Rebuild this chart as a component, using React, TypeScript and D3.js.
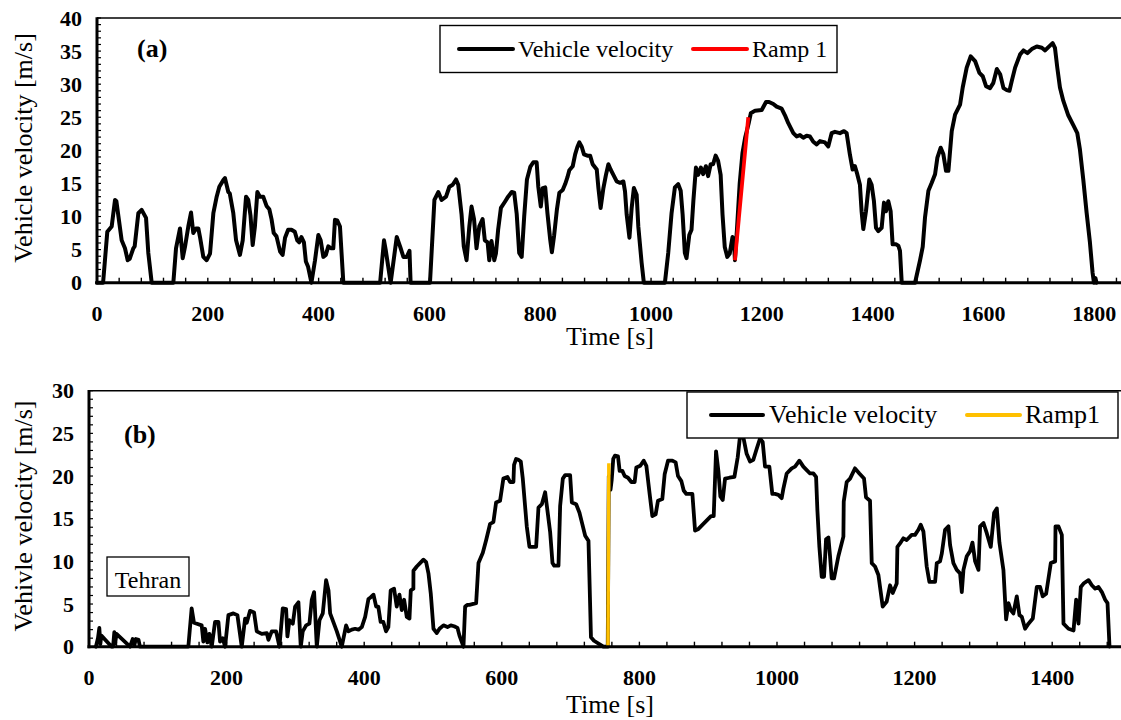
import React from "react";
import * as d3 from "d3";

// ---------- Data: panel (a) ----------
const timeA = [0,11,18.6,26.5,32.5,35,44.5,50.5,55.4,59,65.5,68,74.6,80.6,88.5,92.6,98.7,137.8,142.6,149.8,154.7,158.8,164.8,169.7,173.8,178.7,182.9,185.9,191.9,198,204,210,216,220.8,228,231,237,239.6,246,251,258,263,269,273,277,281,285,289.4,294,300,306,311,315,319,324,330.5,335,339.4,345,351,357,361.5,365,369,373.5,377,381,387,393.5,399.5,403.7,408.5,413,417.5,422,426.5,429.5,433.7,438.5,444.6,511,518,521,530,541,547,553,559,564,566,601,609,616,622,630,636,642,648,652,658,662,667,672,676,680.5,685,690,696,700,705,708,712,717,720,724,729,736,742,748.5,753,757.5,762,766.5,771,776,782,787.5,793.5,796.5,801,804.5,809,813,818,821,825,830,834.5,840.5,845,849,852.5,858.6,863,867,870.6,875,879,885,890,894.6,902,905,909,914,918.6,923,927,932,938,944,950,953,956,961,965,969,974,977,983,987,1025,1031,1037,1043,1049,1053.5,1057,1061,1064,1069,1073,1076.4,1081,1085,1090,1094,1099,1103,1107.6,1112,1116.6,1121,1125.6,1129,1133,1137.6,1142,1147,1149.6,1151.4,1155,1160,1165,1170,1176,1180,1187.8,1199.7,1207.5,1213,1220.7,1226.7,1235.7,1241.7,1247.7,1256.8,1262.8,1268.8,1274.8,1280.8,1286.8,1292.8,1298.9,1304.9,1313.9,1319.9,1325.9,1331.9,1340.9,1348.2,1353,1359,1363.8,1368,1372.2,1377,1380,1383.1,1387.9,1393.9,1398.1,1402.3,1406,1410.2,1416.2,1420.4,1424,1428.2,1432.4,1436,1442,1446.3,1449.3,1452.4,1476.5,1485.5,1490.3,1494.5,1500.6,1506.6,1512.6,1516.8,1522.8,1527.6,1532.4,1536.7,1542.7,1548.7,1557.7,1562.5,1569.7,1576.9,1584.8,1592.6,1598.6,1604.6,1611.8,1617.8,1624.1,1630.1,1636.1,1642.1,1646.9,1651.1,1657.1,1666.1,1672.1,1679.4,1687.2,1696.2,1705.2,1711.2,1717.2,1724.8,1729,1733.2,1738,1744,1753,1762.1,1769.3,1774.1,1780.1,1786.1,1792.1,1796.9,1799.4,1802,1804];
const speedA = [0,0,7.7,8.5,12.5,12.3,6.4,5.2,3.4,3.6,5.2,5.5,10.5,11,9.8,4.5,0,0,5.2,8.2,3.7,5.4,8.5,10.6,7.5,8.2,8.2,6.9,3.9,3.4,4.4,10.5,13,14.5,15.5,15.8,13.7,13.5,10.5,6.4,4.2,6.4,13,12.5,10.2,5.7,8.5,13.7,13,13,11.6,11.1,9.6,7.5,7,4.7,4.2,6.8,8,8,7.7,6.4,6.1,6.9,6.1,3.2,2.4,0,3.4,7.2,6.4,3.9,4.2,5.5,5.2,5.2,9.5,9.4,8.5,0,0,6.4,5,0,6.9,5.5,3.9,3.9,4.8,0,0,12.5,13.7,12.5,13,14.5,14.8,15.6,14.8,10.3,5.5,3.4,8.5,11.5,9.6,5.2,8.5,9.6,6.4,6.1,3.4,6.3,3.4,4.4,8,11.3,12.2,13,13.7,13.6,10.4,4.5,3.9,10,15.6,17.5,18.2,18.2,14.5,11.5,14.3,14.4,10.5,6.5,4.6,7.1,11,13.6,14,14.9,15.9,17,17.6,19.4,20.5,21.2,20.5,19.4,19.2,19.2,17.9,17.1,14.3,11.3,14.3,16.3,17.9,17.1,16.3,15.3,15.1,15.3,13.8,10.3,6.8,11.3,14.3,13.3,8.5,3,0,0,4.5,10.5,14.4,14.9,13.9,10.3,4.5,3.7,7.2,8,12.4,17.4,16.3,17.4,16.4,17.6,16.1,17.9,17.9,19.2,18.4,16.3,10.3,5.4,3.9,4.4,6.9,6.4,3.4,8,15,19.6,22,24,25.6,26,26.1,27.3,27.3,27,26.6,26.3,25.3,24.1,22.6,22.1,22.3,21.9,22.2,22.1,21.3,20.9,21.4,21.2,20.6,22.6,22.8,22.6,22.9,22.6,19.3,17.1,17.6,16.4,14.8,10.8,8.1,10.8,15.6,14.8,12.3,8.3,7.8,8.3,12.1,10.8,12.3,10.8,5.8,5.8,5.6,4.8,0,0,3.4,5.4,9.9,13.9,15.1,16.4,18.9,20.4,19.4,16.9,16.9,22.9,25.4,26.9,29.5,32.5,34.2,33.5,31.7,31.2,29.7,29.4,30.2,32.3,31.5,29.4,29.1,29,30.5,32.5,34.5,35.1,34.7,35.3,35.7,35.5,35.1,35.6,36.2,35.5,32.5,29.5,27.5,25.3,23.8,22.6,20.1,15.6,10.6,6.1,1.5,0,0.7,0];
const rampATime = [1151.4, 1175.5];
const rampASpeed = [3.4, 25];

// ---------- Data: panel (b) ----------
const timeB = [10,13,15,16.5,18,33,35,36.8,38,40,59.6,63.5,66,68,72,74,144.4,149.2,152.6,163.8,166.2,168.7,172,175,178.4,183.2,188.1,190.5,194.4,197.8,202.6,209.9,215.7,222,226.9,229.3,234.1,239.9,243.8,251.1,258.4,260.8,265.6,271.9,276.8,281.6,286.5,288.4,291.3,296.2,299.6,304.4,307.8,310.7,315.6,320.4,323.8,327.2,331.1,335,339.8,344.6,348.1,350.5,360.2,367.4,373.7,377.1,382,386.8,391.7,396.5,401.4,406.2,409.6,413.5,417.4,420.5,423.9,427.8,431.7,435.1,438.5,443.4,447.3,451.2,454.6,458,461.9,465.8,467.7,471.5,471.6,476.4,481.2,486.1,490,493.4,496.8,500.7,505.5,509.4,515.2,521,525.9,530.7,535.6,538.5,544.3,546.7,550.1,553,562.7,566.1,572.4,577.3,583,587.8,591.7,597.5,602.3,608.2,612,616.9,617.8,620.8,624.1,627.6,630.5,636.3,640.2,649.9,653.3,658.2,663,670.3,673.7,676.1,682.4,684.8,688.7,692.1,699.3,701.8,708.1,712.9,716.3,721.2,726,729.6,734,747.6,754,755.5,758,759.7,762,764.5,768.9,771.3,775.2,778.6,783.4,788.3,793.1,795.5,801.3,806.2,810.1,814.9,818.8,823.6,827,833.3,836.7,841.6,847.9,852.7,856.1,861,864.4,868.3,877,880.9,885.8,904.1,908,911.4,914.8,917.7,921.1,924.5,930.8,938.1,942.9,946.8,951.7,955.9,960.8,965.6,970.5,975.3,979.2,982.6,988.9,993.2,997.1,1002,1006.8,1009.2,1014.1,1021.4,1026.2,1032.5,1038.3,1043.2,1048,1052.9,1056.8,1058.7,1061.6,1065,1068.4,1071.3,1074.7,1077.1,1079.5,1082.9,1089.2,1096.5,1097,1101.3,1106.2,1113.4,1119.7,1126.5,1129.4,1135.2,1137.7,1142.5,1147.4,1153.6,1159.5,1164.3,1168.2,1174,1175,1178.8,1183.7,1188.5,1195.8,1200.6,1205.5,1208.9,1212.8,1217.6,1221.5,1229.8,1232.2,1237,1239.5,1244.3,1249.2,1251.6,1256.4,1261.3,1266.1,1268.6,1271,1275.8,1280.7,1284.1,1288,1292.8,1295.2,1300.1,1304.9,1310.7,1315.6,1319.5,1323.3,1329.1,1333,1336.4,1339.8,1343.6,1348.5,1352.4,1355.8,1360.6,1365.5,1371.8,1377.6,1382.4,1386.3,1391.2,1398,1404.3,1404.8,1409.1,1414,1416.4,1423.7,1431,1434.8,1438.2,1441.6,1445.5,1452.8,1457.6,1462.5,1467.3,1472.2,1477,1480.4,1483.3];
const speedB = [0,1.0,2.2,0.3,1.3,0,0,1.7,0.4,1.5,0,0.9,0.2,0.9,0.8,0,0,4.5,2.8,2.5,0.6,2.1,0.5,1.5,0,2.9,2.9,0.6,1,0,3.7,3.9,3.7,0,3.3,2.8,4.2,4,1.8,1.5,1.6,0.8,1.8,1.8,0,4.5,4.4,1.2,3.1,2.7,4.7,5.2,0,1.8,2.5,2.7,5.5,6.4,0,3.1,3.9,7.8,6.6,3.9,1.8,0,2.5,1.8,2,2.1,2,2.3,3.5,5.6,5.8,6.1,4.7,4.7,2.9,2.9,1.8,2.3,6.6,6.8,4.7,6.1,4.3,5.5,3.5,3.3,6.6,6.8,8.9,9.4,9.8,10.2,9.9,8.6,6.2,2.1,1.6,2.1,2.5,2.3,2.5,2.4,2.2,1.3,0,4.7,4.9,4.9,5.1,9.8,11,12.5,14.4,14.6,16.9,17.1,19.7,19.9,19.3,19.3,21.3,22,21.9,21.7,19.7,14.1,11.7,11.7,16.3,16.7,18.1,13.4,9.8,9.5,9.5,16.5,19.7,20.1,20.1,16.9,16.7,15.7,14.6,13,12.4,1.1,0.7,0,0,20,18.4,19.5,22,22.4,22.3,20.6,20.6,20,19.8,19.3,19.3,21,21.2,21.8,21.2,17.9,15.3,15.5,17.1,17.3,20.2,21.8,21.8,21.6,20,19.4,18.3,17.9,17.9,13.6,13.8,15.3,15.3,22.9,20.6,17.6,17.2,19.7,19.8,19.9,22.2,25.1,24.3,22.6,21.7,21.9,23.2,24.4,24,21.1,21.1,17.9,17.9,17.8,17.4,18.5,20.3,20.9,21.1,21.8,21.1,20.7,20.3,20.3,19.9,16,11.7,8.2,8.2,12.6,12.8,10.6,8,8,10.6,12.9,17,19.3,19.7,20.9,20.3,19.7,17.5,17.1,9.8,9.4,8.4,4.7,5.3,7.2,6.3,7.4,11.7,12.1,12.7,12.5,13.1,13.1,13.7,14.3,13.5,9.4,7.6,7.6,9.8,10,10.9,13.7,14.1,11.9,9.8,9,8.6,6.4,9,10.6,11.2,12.2,10,9,14.1,14.5,13.3,11.7,15.7,16.2,12.2,9,3.2,5.1,4.3,3.9,5.9,3.7,3.5,2.1,2.7,3.3,7,7,5.9,6.2,9.8,10,14.1,14.1,13.1,2.7,2.1,1.9,5.5,2.7,7,7.4,7.8,7.2,6.8,7,6.4,5.5,5.1,0];
const rampBTime = [754.3, 755.6];
const rampBSpeed = [0, 21.5];

// ---------- Tick values ----------
const xTicksA = [0, 200, 400, 600, 800, 1000, 1200, 1400, 1600, 1800];
const yTicksA = [0, 5, 10, 15, 20, 25, 30, 35, 40];
const xTicksB = [0, 200, 400, 600, 800, 1000, 1200, 1400];
const yTicksB = [0, 5, 10, 15, 20, 25, 30];

const SERIF = "'Liberation Serif', 'Times New Roman', serif";

type PanelProps = {
  times: number[];
  speeds: number[];
  rampT: number[];
  rampV: number[];
  rampColor: string;
  rampW: number;
  xDomain: [number, number];
  xRange: [number, number];
  yMax: number;
  yRange: [number, number];
  xTicks: number[];
  yTicks: number[];
  lineW: number;
};

function Panel(p: PanelProps) {
  const x = d3.scaleLinear().domain(p.xDomain).range(p.xRange);
  const y = d3.scaleLinear().domain([0, p.yMax]).range(p.yRange);
  const pts = p.times.map((t, i) => [t, p.speeds[i]] as [number, number]);
  const rampPts = p.rampT.map((t, i) => [t, p.rampV[i]] as [number, number]);
  const line = d3
    .line<[number, number]>()
    .x((d) => x(d[0]))
    .y((d) => y(d[1]));
  const x0 = p.xRange[0];
  const y0 = p.yRange[0];
  const yTop = p.yRange[1];
  const minorY = d3.range(0, p.yMax + 0.001, 1);
  const minorX = d3.range(0, p.xDomain[1], 40);
  return (
    <g>
      <line x1={x0} x2={1121} y1={yTop} y2={yTop} stroke="#000" strokeWidth={1.4} />
      <path d={line(pts) || ""} fill="none" stroke="#000" strokeWidth={p.lineW} strokeLinejoin="round" strokeLinecap="round" />
      <path d={line(rampPts) || ""} fill="none" stroke={p.rampColor} strokeWidth={p.rampW} strokeLinecap="butt" />
      {minorY.map((v) => (
        <line key={"my" + v} x1={x0} x2={x0 + 4} y1={y(v)} y2={y(v)} stroke="#000" strokeWidth={1.2} />
      ))}
      {minorX.map((v) => (
        <line key={"mx" + v} x1={x(v)} x2={x(v)} y1={y0} y2={y0 - 5} stroke="#000" strokeWidth={1.4} />
      ))}
      <line x1={x0} x2={x0} y1={yTop - 0.7} y2={y0 + 1.5} stroke="#000" strokeWidth={3} />
      <line x1={x0 - 1.5} x2={1121} y1={y0} y2={y0} stroke="#000" strokeWidth={3} />
      {p.xTicks.map((v) => (
        <text key={"xt" + v} x={x(v)} y={y0 + 38} textAnchor="middle" fontFamily={SERIF} fontWeight="bold" fontSize={22}>
          {v}
        </text>
      ))}
      {p.yTicks.map((v) => (
        <text key={"yt" + v} x={x0 - 15} y={y(v) + 7.5} textAnchor="end" fontFamily={SERIF} fontWeight="bold" fontSize={22}>
          {v}
        </text>
      ))}
    </g>
  );
}

export default function App() {
  return (
    <svg
      width={1121}
      height={720}
      style={{ position: "absolute", left: 0, top: 0, background: "#fff" }}
    >
      <rect x={0} y={0} width={1121} height={720} fill="#fff" />
      <Panel
        times={timeA}
        speeds={speedA}
        rampT={rampATime}
        rampV={rampASpeed}
        rampColor="#ff0000"
        rampW={3.8}
        xDomain={[0, 1850]}
        xRange={[97, 1122]}
        yMax={40}
        yRange={[282.7, 18]}
        xTicks={xTicksA}
        yTicks={yTicksA}
        lineW={4}
      />
      <Panel
        times={timeB}
        speeds={speedB}
        rampT={rampBTime}
        rampV={rampBSpeed}
        rampColor="#ffc000"
        rampW={3.5}
        xDomain={[0, 1500]}
        xRange={[89, 1121]}
        yMax={30}
        yRange={[646.7, 390.7]}
        xTicks={xTicksB}
        yTicks={yTicksB}
        lineW={3.8}
      />

      <text x={610} y={345} textAnchor="middle" fontFamily={SERIF} fontSize={26}>Time [s]</text>
      <text x={610} y={713} textAnchor="middle" fontFamily={SERIF} fontSize={26}>Time [s]</text>
      <text transform="translate(32,148) rotate(-90)" textAnchor="middle" fontFamily={SERIF} fontSize={26}>
        Vehicle velocity [m/s]
      </text>
      <text transform="translate(32,516) rotate(-90)" textAnchor="middle" fontFamily={SERIF} fontSize={26}>
        Vehivle velocity [m/s]
      </text>

      <text x={137} y={57} fontFamily={SERIF} fontWeight="bold" fontSize={26}>(a)</text>
      <text x={124} y={443} fontFamily={SERIF} fontWeight="bold" fontSize={26}>(b)</text>

      <rect x={107} y={557} width={82} height={39} fill="#fff" stroke="#000" strokeWidth={1.3} />
      <text x={148} y={588} textAnchor="middle" fontFamily={SERIF} fontSize={24}>Tehran</text>

      <rect x={440} y={25.5} width={397} height={47} fill="#fff" stroke="#000" strokeWidth={1.4} />
      <line x1={459} x2={513} y1={49} y2={49} stroke="#000" strokeWidth={4} strokeLinecap="round" />
      <text x={518} y={57} fontFamily={SERIF} fontSize={24}>Vehicle velocity</text>
      <line x1={693} x2={747} y1={49} y2={49} stroke="#ff0000" strokeWidth={4} strokeLinecap="round" />
      <text x={752} y={57} fontFamily={SERIF} fontSize={24}>Ramp 1</text>

      <rect x={687} y={392} width={431} height={46} fill="#fff" stroke="#000" strokeWidth={1.4} />
      <line x1={711} x2={763} y1={415} y2={415} stroke="#000" strokeWidth={4} strokeLinecap="round" />
      <text x={769} y={423} fontFamily={SERIF} fontSize={26}>Vehicle velocity</text>
      <line x1={967} x2={1020} y1={415} y2={415} stroke="#ffc000" strokeWidth={4} strokeLinecap="round" />
      <text x={1025} y={423} fontFamily={SERIF} fontSize={26}>Ramp1</text>
    </svg>
  );
}
